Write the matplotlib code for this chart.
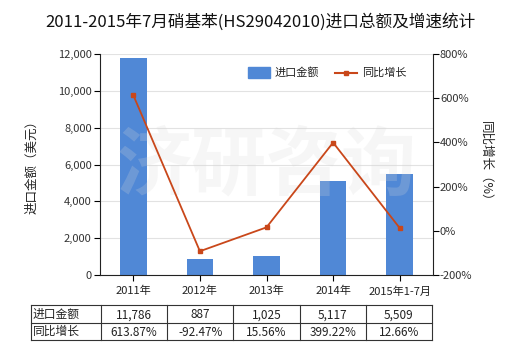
import matplotlib
matplotlib.use("Agg")
import matplotlib.pyplot as plt
from matplotlib.lines import Line2D
from matplotlib.patches import Rectangle

plt.rcParams['font.family'] = ['Noto Sans CJK SC', 'DejaVu Sans']

categories = ["2011年", "2012年", "2013年", "2014年", "2015年1-7月"]
import_values = [11786, 887, 1025, 5117, 5509]
growth_values = [613.87, -92.47, 15.56, 399.22, 12.66]
import_labels = ["11,786", "887", "1,025", "5,117", "5,509"]
growth_labels = ["613.87%", "-92.47%", "15.56%", "399.22%", "12.66%"]
left_ticks = [0, 2000, 4000, 6000, 8000, 10000, 12000]
right_ticks = [-200, 0, 200, 400, 600, 800]

W, H = 520, 350
fig = plt.figure(figsize=(W / 100, H / 100), dpi=100)

def fx(px):
    return px / W

def fy(py):
    return 1 - py / H

ax_l, ax_r_px, ax_t, ax_b = 100, 433, 54, 275
ax = fig.add_axes([fx(ax_l), fy(ax_b), fx(ax_r_px - ax_l), (ax_b - ax_t) / H])
x = list(range(len(categories)))
bar_color = "#5088d6"
line_color = "#c9471a"

ax.bar(x, import_values, width=0.4, color=bar_color, zorder=2)
ax.set_xlim(-0.5, len(categories) - 0.5)
ax.set_ylim(0, 12000)
ax.set_yticks(left_ticks)
ax.set_yticklabels([f"{v:,}" for v in left_ticks], fontsize=8, color="#333333")
ax.set_xticks(x)
ax.set_xticklabels(categories, fontsize=8, color="#222222")
ax.yaxis.grid(True, color="#e2e2e2", linewidth=0.8, zorder=0)
ax.set_axisbelow(True)
ax.spines["top"].set_visible(False)
ax.spines["right"].set_visible(False)
ax.spines["left"].set_color("#222222")
ax.spines["bottom"].set_color("#222222")
ax.tick_params(axis="y", length=4, width=0.8, pad=2)
ax.tick_params(axis="x", length=4, width=0.8, pad=4)
ax.set_ylabel("进口金额（美元）", fontsize=9, color="#222222", labelpad=14)

# watermark (above bars, below line)
ax.text(0.5, 0.49, "济研咨询", transform=ax.transAxes, fontsize=54, color="#d8d8d8", alpha=0.22,
        ha="center", va="center", fontweight="bold", zorder=3)

ax2 = ax.twinx()
ax2.plot(x, growth_values, color=line_color, linewidth=1.3, marker="s", markersize=3.5, zorder=3)
ax2.set_ylim(-200, 800)
ax2.set_yticks(right_ticks)
ax2.set_yticklabels([f"{v}%" for v in right_ticks], fontsize=8, color="#333333")
ax2.spines["top"].set_visible(False)
ax2.spines["left"].set_visible(False)
ax2.spines["bottom"].set_visible(False)
ax2.spines["right"].set_color("#222222")
ax2.tick_params(axis="y", length=4, width=0.8, pad=1)
ax2.set_ylabel("同比增长（%）", fontsize=9, color="#222222", rotation=-90, labelpad=14)

fig.text(0.5, fy(22), "2011-2015年7月硝基苯(HS29042010)进口总额及增速统计", fontsize=12,
         ha="center", va="center", color="#111111")

# legend
fig.patches.append(Rectangle((fx(248), fy(78)), fx(22), 11 / H, color=bar_color,
                             transform=fig.transFigure, figure=fig))
fig.text(fx(275), fy(72.5), "进口金额", fontsize=8, va="center", color="#222222")
fig.lines.append(Line2D([fx(335), fx(357)], [fy(72.5), fy(72.5)], color=line_color, linewidth=1.5,
                        transform=fig.transFigure))
fig.lines.append(Line2D([fx(346)], [fy(72.5)], color=line_color, marker="s", markersize=3.5,
                        linestyle="none", transform=fig.transFigure))
fig.text(fx(362), fy(72.5), "同比增长", fontsize=8, va="center", color="#222222")

# table
t_left, t_first, t_right = 31, 101, 432
rows_y = [305, 323, 340]
col_w = (t_right - t_first) / len(categories)
lc = "#333333"
for yy in rows_y:
    fig.lines.append(Line2D([fx(t_left), fx(t_right)], [fy(yy), fy(yy)], color=lc, linewidth=0.8,
                            transform=fig.transFigure))
vx = [t_left, t_first] + [t_first + col_w * (i + 1) for i in range(len(categories))]
for xx in vx:
    fig.lines.append(Line2D([fx(xx), fx(xx)], [fy(rows_y[0]), fy(rows_y[-1])], color=lc,
                            linewidth=0.8, transform=fig.transFigure))
row_names = ["进口金额", "同比增长"]
row_vals = [import_labels, growth_labels]
for r in range(2):
    yc = (rows_y[r] + rows_y[r + 1]) / 2
    fig.text(fx(t_left + 2), fy(yc), row_names[r], fontsize=8.5, va="center", ha="left", color="#222222")
    for i, lab in enumerate(row_vals[r]):
        fig.text(fx(t_first + col_w * (i + 0.5)), fy(yc + 1), lab, fontsize=8.5, va="center",
                 ha="center", color="#222222")

fig.savefig("out.png", dpi=100)
